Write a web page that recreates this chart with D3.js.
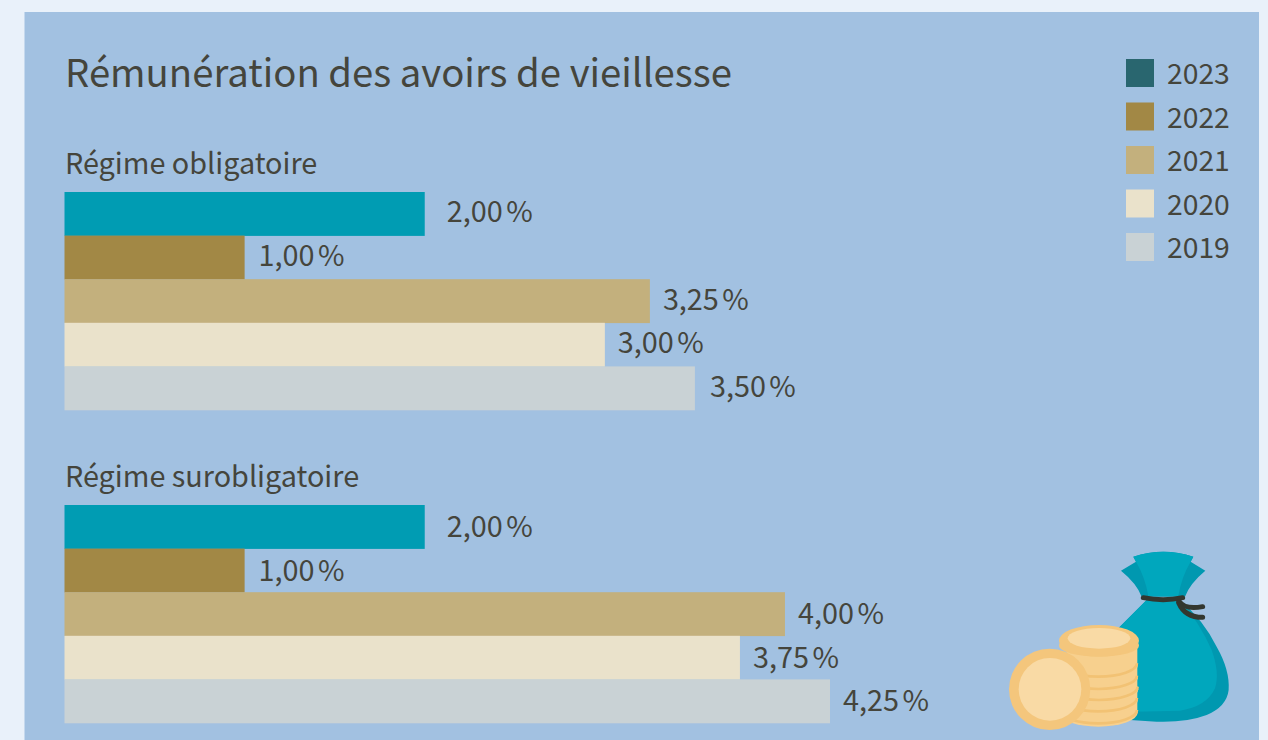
<!DOCTYPE html>
<html><head><meta charset="utf-8">
<script src="https://cdn.jsdelivr.net/npm/d3@7"></script>
<style>
html,body{margin:0;padding:0;background:#e9f1fa;overflow:hidden}
svg{display:block}
text{font-family:"Noto Sans CJK SC","Noto Sans",sans-serif;fill:#45453c}
</style></head><body>
<svg id="c" width="1268" height="740"></svg>
<script>
const years = ["2023","2022","2021","2020","2019"];
const legendColors = ["#29666f","#a28845","#c3b07d","#eae2cb","#c9d2d5"];
const barColors = ["#009cb3","#a28845","#c3b07d","#eae2cb","#c9d2d5"];
const groups = ["Régime obligatoire","Régime surobligatoire"];
const valuesObligatoire = [2.00,1.00,3.25,3.00,3.50];
const valuesSurobligatoire = [2.00,1.00,4.00,3.75,4.25];
const title = "Rémunération des avoirs de vieillesse";
const labelGaps = [[22,14,13,13,15],[22,14,13,13,13]];
const labelShift = [-1.5,0.2];

const svg = d3.select("#c");
svg.append("rect").attr("x",24.5).attr("y",12).attr("width",1234.5).attr("height",728).attr("fill","#a2c1e1");
svg.append("text").attr("x",65).attr("y",87).attr("font-size",38.3).text(title);

const x = d3.scaleLinear().domain([0,4.25]).range([64.5,830]);
const yTop = [192,505];
const fmt = v => d3.format(".2f")(v).replace(".",",");
[valuesObligatoire,valuesSurobligatoire].forEach((vals,g)=>{
  const y = d3.scaleBand().domain(years).range([yTop[g],yTop[g]+218]);
  svg.append("text").attr("x",65).attr("y",yTop[g]-18).attr("font-size",28.8).text(groups[g]);
  const row = svg.append("g").selectAll("g").data(vals).join("g");
  row.append("rect").attr("x",x(0)).attr("y",(d,i)=>y(years[i]))
    .attr("width",d=>x(d)-x(0)).attr("height",y.bandwidth()+0.3)
    .attr("fill",(d,i)=>barColors[i]);
  const lab = row.append("text").attr("x",(d,i)=>x(d)+labelGaps[g][i]).attr("y",(d,i)=>y(years[i])+y.bandwidth()/2+10+labelShift[g])
    .attr("font-size",28.8).text(fmt);
  lab.append("tspan").attr("dx",3.5).text("%");
});

const ly = d3.scalePoint().domain(years).range([59,233]);
const leg = svg.append("g").selectAll("g").data(years).join("g").attr("transform",d=>`translate(1126,${ly(d)})`);
leg.append("rect").attr("width",28).attr("height",28).attr("fill",(d,i)=>legendColors[i]);
leg.append("text").attr("x",41).attr("y",25).attr("font-size",28.3).text(d=>d);

// illustration (zoomed-crop coordinates)
const ic = svg.append("g").attr("transform","translate(990,530) scale(0.3333)");
const P=(d,f)=>ic.append("path").attr("d",d).attr("fill",f);
P("M430 80 Q520 50 610 80 L602 95 L646 122 Q600 160 585 200 L455 200 Q440 160 393 122 L438 95 Z","#0098b0");
P("M430 80 Q520 50 610 80 L602 95 Q575 140 565 198 L475 198 Q465 140 438 95 Z","#00a7bd");
P("M470 210 L570 210 Q640 270 680 350 Q720 420 716 480 Q710 530 650 555 Q590 578 500 575 L420 570 L380 300 Q420 260 470 210 Z","#0098b0");
P("M470 210 L570 210 Q630 280 665 360 Q690 430 675 475 Q650 530 570 542 L430 545 L380 300 Q420 260 470 210 Z","#00a7bd");
const rope=(d)=>ic.append("path").attr("d",d).attr("fill","none").attr("stroke","#33372f").attr("stroke-width",15).attr("stroke-linecap","round");
rope("M460 203 Q520 215 578 203");
rope("M568 215 Q585 240 638 230");
rope("M566 218 Q585 262 638 262");
// coin stack
ic.append("rect").attr("x",230).attr("y",350).attr("width",212).attr("height",200).attr("fill","#f7d08e");
[[325,548],[325,512],[327,478],[325,445],[325,408]].forEach(([cx,cy])=>{
  ic.append("ellipse").attr("cx",cx).attr("cy",cy).attr("rx",118).attr("ry",42).attr("fill","#f7d08e");
  ic.append("path").attr("d",`M${cx-116} ${cy-8} A116 40 0 0 0 ${cx+116} ${cy-8}`).attr("fill","none").attr("stroke","#f2c274").attr("stroke-width",8);
});
ic.append("ellipse").attr("cx",327).attr("cy",347).attr("rx",120).attr("ry",33).attr("fill","#f4c67c");
ic.append("ellipse").attr("cx",327).attr("cy",332).attr("rx",120).attr("ry",47).attr("fill","#f4c67c");
ic.append("ellipse").attr("cx",327).attr("cy",325).attr("rx",94).attr("ry",31).attr("fill","#f9daa5");
ic.append("circle").attr("cx",179).attr("cy",478).attr("r",122).attr("fill","#f4c67c");
ic.append("circle").attr("cx",180).attr("cy",478).attr("r",94).attr("fill","#f9daa5");
</script>
</body></html>
